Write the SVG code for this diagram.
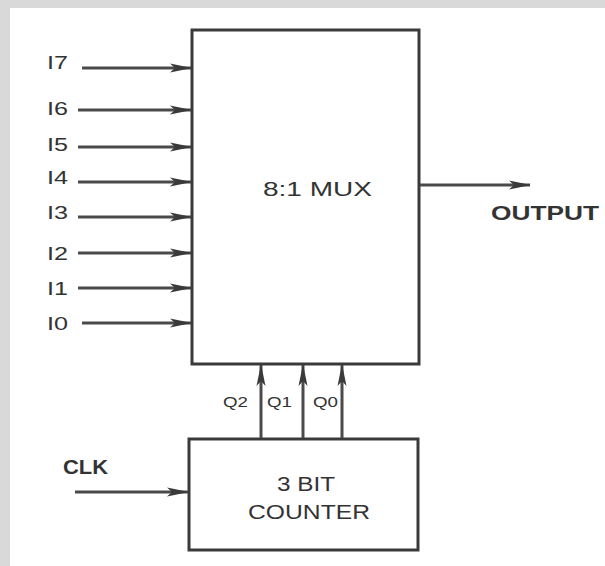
<svg xmlns="http://www.w3.org/2000/svg" width="605" height="566" viewBox="0 0 605 566">
<defs>
<marker id="ah" markerUnits="userSpaceOnUse" viewBox="0 0 22 12" refX="21" refY="6" markerWidth="22" markerHeight="12" orient="auto">
<path d="M0,1.5 L22,6 L0,10.5 L5,6 Z" fill="#3a3a3a"/>
</marker>
</defs>
<style>
.bg{fill:#d9d9d9}
.panel{fill:#ffffff}
.box{fill:#ffffff;stroke:#3a3a3a;stroke-width:3}
.wire{fill:none;stroke:#4a4a4a;stroke-width:3;marker-end:url(#ah)}
.lbl{font-family:"Liberation Sans",Arial,sans-serif;fill:#333333}
.in{font-size:18px}
.big{font-size:20px}
.q{font-size:14px}
</style>
<rect class="bg" x="0" y="0" width="605" height="566"/>
<rect class="panel" x="10" y="8" width="595" height="558"/>

<g id="mux">
<rect class="box" x="192" y="30" width="227" height="334"/>
<text class="lbl big" x="263" y="196" textLength="109" lengthAdjust="spacingAndGlyphs">8:1 MUX</text>
</g>

<g id="counter">
<rect class="box" x="189" y="439" width="229" height="111"/>
<text class="lbl big" x="277" y="491" textLength="58" lengthAdjust="spacingAndGlyphs">3 BIT</text>
<text class="lbl big" x="248" y="519" textLength="122" lengthAdjust="spacingAndGlyphs">COUNTER</text>
</g>

<g id="labels">
<text class="lbl in" x="47" y="69" textLength="21" lengthAdjust="spacingAndGlyphs">I7</text>
<text class="lbl in" x="47" y="115" textLength="21" lengthAdjust="spacingAndGlyphs">I6</text>
<text class="lbl in" x="47" y="151" textLength="21" lengthAdjust="spacingAndGlyphs">I5</text>
<text class="lbl in" x="47" y="184" textLength="21" lengthAdjust="spacingAndGlyphs">I4</text>
<text class="lbl in" x="47" y="219" textLength="21" lengthAdjust="spacingAndGlyphs">I3</text>
<text class="lbl in" x="47" y="260" textLength="21" lengthAdjust="spacingAndGlyphs">I2</text>
<text class="lbl in" x="47" y="295" textLength="21" lengthAdjust="spacingAndGlyphs">I1</text>
<text class="lbl in" x="47" y="330" textLength="21" lengthAdjust="spacingAndGlyphs">I0</text>
<text class="lbl big" x="491" y="220" textLength="108" lengthAdjust="spacingAndGlyphs" font-weight="bold">OUTPUT</text>
<text class="lbl big" x="63" y="474" textLength="45" lengthAdjust="spacingAndGlyphs" font-weight="bold">CLK</text>
<text class="lbl q" x="223" y="407" textLength="25" lengthAdjust="spacingAndGlyphs">Q2</text>
<text class="lbl q" x="267" y="407" textLength="25" lengthAdjust="spacingAndGlyphs">Q1</text>
<text class="lbl q" x="313" y="407" textLength="25" lengthAdjust="spacingAndGlyphs">Q0</text>
</g>

<g id="connectors">
<path class="wire" d="M82,68 H191"/>
<path class="wire" d="M78,110 H191"/>
<path class="wire" d="M78,147 H191"/>
<path class="wire" d="M78,182 H191"/>
<path class="wire" d="M78,217 H191"/>
<path class="wire" d="M78,253 H191"/>
<path class="wire" d="M78,288 H191"/>
<path class="wire" d="M82,323 H191"/>
<path class="wire" d="M420,185 H530"/>
<path class="wire" d="M75,492 H188"/>
<path class="wire" d="M261,438 V365"/>
<path class="wire" d="M303,438 V365"/>
<path class="wire" d="M342,438 V365"/>
</g>
</svg>
